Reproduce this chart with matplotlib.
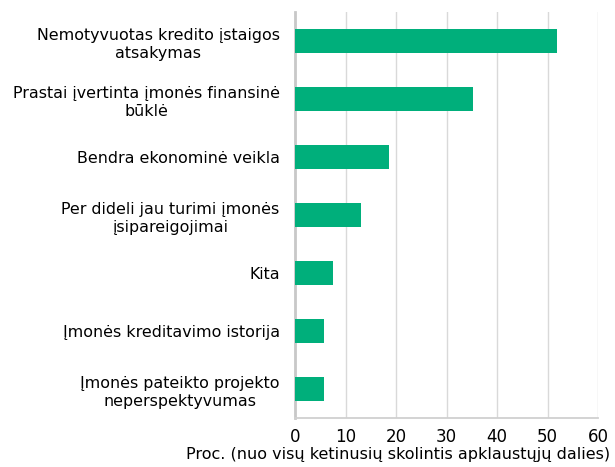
import numpy as np
import matplotlib.pyplot as plt

categories = [
    "Nemotyvuotas kredito įstaigos\natsakymas",
    "Prastai įvertinta įmonės finansinė\nbūklė",
    "Bendra ekonominė veikla",
    "Per dideli jau turimi įmonės\nįsipareigojimai",
    "Kita",
    "Įmonės kreditavimo istorija",
    "Įmonės pateikto projekto\nneperspektyvumas",
]
values = [51.8, 35.2, 18.6, 13.0, 7.5, 5.7, 5.7]
xticks = [0, 10, 20, 30, 40, 50, 60]

fig = plt.figure(figsize=(6.15, 4.67), dpi=100)
ax = fig.add_axes([295 / 615, 1 - 418 / 467, 303 / 615, 406 / 467])

ypos = np.arange(len(categories))
ax.barh(ypos, values, height=0.4, color="#00AF7B", zorder=3)
ax.set_ylim(len(categories) - 0.5, -0.5)
ax.set_xlim(0, 60)
ax.set_yticks(ypos)
ax.set_yticklabels(categories, fontsize=11.4, multialignment="center",
                   linespacing=1.25)
ax.tick_params(axis="y", length=0, pad=11)
ax.set_xticks(xticks)
ax.set_xticklabels([str(t) for t in xticks], fontsize=12)
ax.tick_params(axis="x", length=0, pad=7)
fig.text(398 / 615, 1 - 459 / 467,
         "Proc. (nuo visų ketinusių skolintis apklaustųjų dalies)",
         fontsize=11.5, ha="center", va="baseline")
ax.grid(True, axis="x", color="#d9d9d9", linewidth=1, zorder=0)
for s in ("top", "right"):
    ax.spines[s].set_visible(False)
ax.spines["left"].set_color("#c8c8c8")
ax.spines["left"].set_linewidth(2)
ax.spines["bottom"].set_color("#d0d0d0")
ax.spines["bottom"].set_linewidth(1.3)

fig.savefig("out.png", dpi=100)
